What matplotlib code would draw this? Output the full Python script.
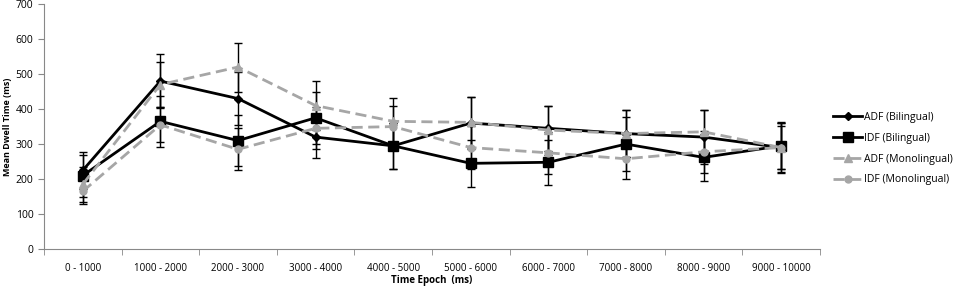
import numpy as np
import matplotlib.pyplot as plt
from matplotlib.lines import Line2D

plt.rcParams['font.family'] = ['Open Sans', 'DejaVu Sans']

epochs = ['0 - 1000', '1000 - 2000', '2000 - 3000', '3000 - 4000', '4000 - 5000',
          '5000 - 6000', '6000 - 7000', '7000 - 8000', '8000 - 9000', '9000 - 10000']

adf_bi = [225, 480, 430, 320, 295, 360, 345, 330, 320, 290]
adf_bi_err = [52, 78, 75, 60, 65, 75, 65, 68, 78, 72]
idf_bi = [210, 365, 310, 375, 295, 245, 248, 300, 262, 295]
idf_bi_err = [60, 72, 72, 75, 65, 68, 65, 78, 68, 65]
adf_mono = [185, 470, 520, 410, 365, 362, 340, 330, 335, 290]
adf_mono_err = [50, 65, 70, 70, 68, 72, 70, 68, 62, 70]
idf_mono = [165, 355, 285, 345, 350, 290, 275, 258, 278, 290]
idf_mono_err = [35, 50, 60, 60, 60, 62, 60, 58, 60, 62]

grey = '#a6a6a6'
dash = (0, (4, 2))
x = np.arange(len(epochs))

fig = plt.figure(figsize=(9.64, 2.88), dpi=100)
ax = fig.add_axes([0.0456, 0.135, 0.805, 0.851])

series = [
    ('ADF (Bilingual)', adf_bi, adf_bi_err, 'black', '-', 'D', 4),
    ('IDF (Bilingual)', idf_bi, idf_bi_err, 'black', '-', 's', 7),
    ('ADF (Monolingual)', adf_mono, adf_mono_err, grey, dash, '^', 6),
    ('IDF (Monolingual)', idf_mono, idf_mono_err, grey, dash, 'o', 5),
]
handles = []
for name, vals, err, col, ls, mk, ms in series:
    ax.errorbar(x, vals, yerr=err, color=col, lw=2, ls=ls, marker=mk, ms=ms,
                ecolor='black', elinewidth=1, capsize=3, capthick=1)
    handles.append(Line2D([], [], color=col, lw=2, ls=ls, marker=mk, ms=ms, label=name))

ax.set_xlim(-0.5, len(epochs) - 0.5)
ax.set_ylim(0, 700)
ax.set_yticks(range(0, 701, 100))
ax.set_xticks(x)
ax.set_xticklabels(epochs, fontsize=7)
ax.tick_params(axis='x', which='major', length=0, pad=10)
ax.set_xticks(np.arange(-0.5, len(epochs)), minor=True)
ax.tick_params(axis='x', which='minor', length=4, color='#888888')
ax.tick_params(axis='y', labelsize=7.5, length=4, color='#888888')
for s in ['top', 'right']:
    ax.spines[s].set_visible(False)
for s in ['left', 'bottom']:
    ax.spines[s].set_color('#888888')

ax.set_ylabel('Mean Dwell Time (ms)', fontsize=6.5, fontweight='bold', labelpad=3)
ax.set_xlabel('Time Epoch  (ms)', fontsize=7, fontweight='bold', labelpad=1)

ax.legend(handles=handles, loc='center left', bbox_to_anchor=(1.005, 0.41), frameon=False,
          fontsize=7.5, handlelength=2.8, handletextpad=0.2, labelspacing=0.95)

fig.savefig('out.png', dpi=100)
